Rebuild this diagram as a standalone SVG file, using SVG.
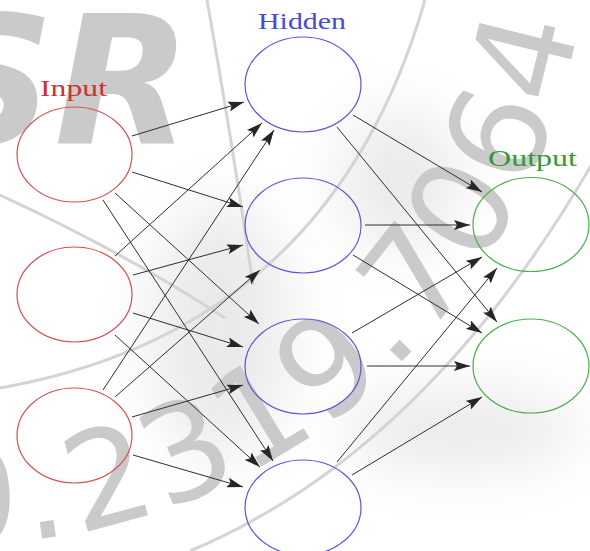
<svg xmlns="http://www.w3.org/2000/svg" width="590" height="551" viewBox="0 0 590 551">
  <defs>
    <marker id="tip" markerUnits="userSpaceOnUse" markerWidth="17" markerHeight="10" refX="16" refY="5" orient="auto">
      <path d="M0,0 L16,5 L0,10 L3,5 Z" fill="#262626"/>
    </marker>
    <filter id="soft" x="-50%" y="-50%" width="200%" height="200%">
      <feGaussianBlur stdDeviation="28"/>
    </filter>
    <!-- baseline circle for the stamped number: centre (-42,-86), r 630 -->
    <path id="markPath" d="M -65.1,543.6 A 630 630 0 0 0 585.6,-31.1"/>
    <style>
      .wm { fill: #cacaca; }
      .arc { fill: none; stroke: #d4d4d4; stroke-width: 3; }
      .node { fill: none; stroke-width: 1.2; }
      .in { stroke: #d65050; }
      .hid { stroke: #5555dd; }
      .out { stroke: #4aad4a; }
      .lbl { font-family: "Liberation Serif", "DejaVu Serif", serif; font-size: 23px; }
      .edges line { stroke: #2e2e2e; stroke-width: 1; marker-end: url(#tip); }
    </style>
  </defs>

  <rect width="590" height="551" fill="#ffffff"/>

  <!-- background shading -->
  <g filter="url(#soft)" opacity="0.16" fill="#808080">
    <ellipse cx="220" cy="330" rx="70" ry="130"/>
    <ellipse cx="460" cy="430" rx="120" ry="40"/>
    <ellipse cx="400" cy="180" rx="60" ry="70"/>
  </g>

  <!-- watermark -->
  <g id="watermark">
    <text class="wm" x="-74" y="143" font-family="DejaVu Sans, sans-serif" font-weight="bold" font-style="italic" font-size="178">SR</text>
    <text class="wm" font-family="DejaVu Sans, sans-serif" font-size="134"><textPath href="#markPath">0<tspan dx="8">.</tspan><tspan dx="8" letter-spacing="4">2319.7064</tspan></textPath></text>
    <path class="arc" d="M207,0 Q232,140 253,285"/>
    <path class="arc" d="M425,0 Q330,330 0,388"/>
    <path class="arc" d="M0,195 Q120,250 225,318"/>
    <path class="arc" d="M600,150 Q430,450 190,551"/>
  </g>

  <!-- connectors -->
  <g id="edges" class="edges">
    <line x1="132" y1="136" x2="244" y2="102"/>
    <line x1="132" y1="172" x2="243" y2="207"/>
    <line x1="115" y1="193" x2="259" y2="324"/>
    <line x1="103" y1="200" x2="273" y2="461"/>

    <line x1="115" y1="256" x2="262" y2="123"/>
    <line x1="133" y1="275" x2="243" y2="245"/>
    <line x1="133" y1="313" x2="243" y2="347"/>
    <line x1="115" y1="335" x2="260" y2="467"/>

    <line x1="103" y1="390" x2="274" y2="130"/>
    <line x1="115" y1="397" x2="260" y2="270"/>
    <line x1="132" y1="417" x2="243" y2="385"/>
    <line x1="133" y1="455" x2="243" y2="487"/>

    <line x1="353" y1="115" x2="482" y2="192"/>
    <line x1="337" y1="127" x2="497" y2="322"/>
    <line x1="365" y1="225" x2="470" y2="225"/>
    <line x1="353" y1="255" x2="482" y2="333"/>
    <line x1="352" y1="333" x2="482" y2="257"/>
    <line x1="367" y1="366" x2="470" y2="366"/>
    <line x1="337" y1="462" x2="497" y2="268"/>
    <line x1="352" y1="475" x2="482" y2="397"/>
  </g>

  <!-- input layer -->
  <g id="input-1"><ellipse class="node in" cx="74.5" cy="154.5" rx="57.5" ry="47.5"/></g>
  <g id="input-2"><ellipse class="node in" cx="74.5" cy="294.5" rx="57.5" ry="47.5"/></g>
  <g id="input-3"><ellipse class="node in" cx="74.5" cy="435.5" rx="57.5" ry="47.5"/></g>

  <!-- hidden layer -->
  <g id="hidden-1"><ellipse class="node hid" cx="303" cy="84.5" rx="58" ry="47.5"/></g>
  <g id="hidden-2"><ellipse class="node hid" cx="303" cy="225.5" rx="58" ry="47.5"/></g>
  <g id="hidden-3"><ellipse class="node hid" cx="303" cy="366.5" rx="58" ry="47.5"/></g>
  <g id="hidden-4"><ellipse class="node hid" cx="303" cy="507.5" rx="58" ry="47.5"/></g>

  <!-- output layer -->
  <g id="output-1"><ellipse class="node out" cx="531" cy="224.5" rx="58" ry="47"/></g>
  <g id="output-2"><ellipse class="node out" cx="531" cy="366" rx="58" ry="47"/></g>

  <!-- layer labels -->
  <g id="labels">
    <text class="lbl" x="40" y="96" fill="#c83434" textLength="67" lengthAdjust="spacingAndGlyphs">Input</text>
    <text class="lbl" x="258" y="29" fill="#4a4ad4" textLength="88" lengthAdjust="spacingAndGlyphs">Hidden</text>
    <text class="lbl" x="488" y="166" fill="#339a33" textLength="89" lengthAdjust="spacingAndGlyphs">Output</text>
  </g>
</svg>
